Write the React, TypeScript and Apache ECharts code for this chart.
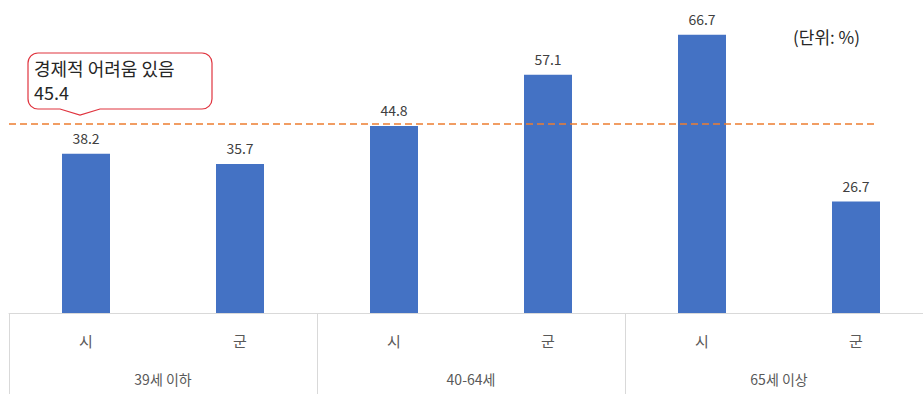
import React, { useEffect, useRef } from "react";
import * as echarts from "echarts";

const subCategories = ["시", "군", "시", "군", "시", "군"];
const groupLabels = ["39세 이하", "40-64세", "65세 이상"];
const values = [38.2, 35.7, 44.8, 57.1, 66.7, 26.7];
const averageValue = 45.4;
const averageLabel = "경제적 어려움 있음";
const unitLabel = "(단위: %)";

const CALLOUT_D =
  "M10,0 H174 A10,10 0 0 1 184,10 V46 A10,10 0 0 1 174,56 H72 L52,62 L32,56 H10 A10,10 0 0 1 0,46 V10 A10,10 0 0 1 10,0 Z";

let registered = false;
function ensureShape() {
  if (registered) return;
  echarts.graphic.registerShape("callout", echarts.graphic.extendPath(CALLOUT_D, {}));
  registered = true;
}

export default function App() {
  const ref = useRef<HTMLDivElement>(null);
  useEffect(() => {
    if (!ref.current) return;
    ensureShape();
    const chart = echarts.init(ref.current, null, { renderer: "svg" });
    const font = "'Noto Sans CJK KR', 'Noto Sans', sans-serif";
    chart.setOption({
      animation: false,
      textStyle: { fontFamily: font },
      grid: { left: 9, right: 7, top: 21, bottom: 81 },
      xAxis: [
        {
          type: "category",
          data: subCategories,
          position: "bottom",
          axisLine: { show: true, lineStyle: { color: "#d9d9d9", width: 1 } },
          axisTick: { show: false },
          axisLabel: { color: "#595959", fontSize: 15, margin: 20, fontFamily: font },
        },
        {
          type: "category",
          data: groupLabels,
          position: "bottom",
          offset: 0,
          axisLine: { show: false },
          axisTick: { show: true, length: 81, interval: 0, lineStyle: { color: "#d9d9d9", width: 1 } },
          axisLabel: { color: "#595959", fontSize: 14, margin: 59, fontFamily: font },
        },
      ],
      yAxis: {
        type: "value",
        min: 0,
        max: 70,
        show: false,
        splitLine: { show: false },
      },
      series: [
        {
          type: "bar",
          xAxisIndex: 0,
          data: values,
          barWidth: 48,
          itemStyle: { color: "#4472C4" },
          label: {
            show: true,
            position: "top",
            distance: 9,
            color: "#404040",
            fontSize: 14,
            fontFamily: font,
          },
          markLine: {
            silent: true,
            symbol: "none",
            label: { show: false },
            lineStyle: { color: "#ED7D31", type: [7, 4], width: 1.5 },
            data: [[{ x: 9, yAxis: averageValue }, { x: 878, yAxis: averageValue }]],
          },
        },
      ],
      graphic: [
        {
          type: "callout",
          x: 28,
          y: 53,
          z: 100,
          style: { fill: "#ffffff", stroke: "#E0343F", lineWidth: 1.2 },
        },
        {
          type: "text",
          x: 34,
          y: 68,
          z: 101,
          style: {
            text: averageLabel,
            fill: "#262626",
            fontSize: 18,
            fontFamily: font,
            verticalAlign: "middle",
          },
        },
        {
          type: "text",
          x: 34,
          y: 92,
          z: 101,
          style: {
            text: `${averageValue}`,
            fill: "#262626",
            fontSize: 18,
            fontFamily: font,
            verticalAlign: "middle",
          },
        },
        {
          type: "text",
          x: 793,
          y: 36,
          style: { text: unitLabel, fill: "#262626", fontSize: 17, fontFamily: font, verticalAlign: "middle" },
        },
      ],
    });
    return () => chart.dispose();
  }, []);
  return (
    <div style={{ position: "fixed", left: 0, top: 0, width: 923, height: 394, overflow: "hidden", background: "#fff" }}>
      <div ref={ref} style={{ width: 940, height: 394 }} />
    </div>
  );
}
